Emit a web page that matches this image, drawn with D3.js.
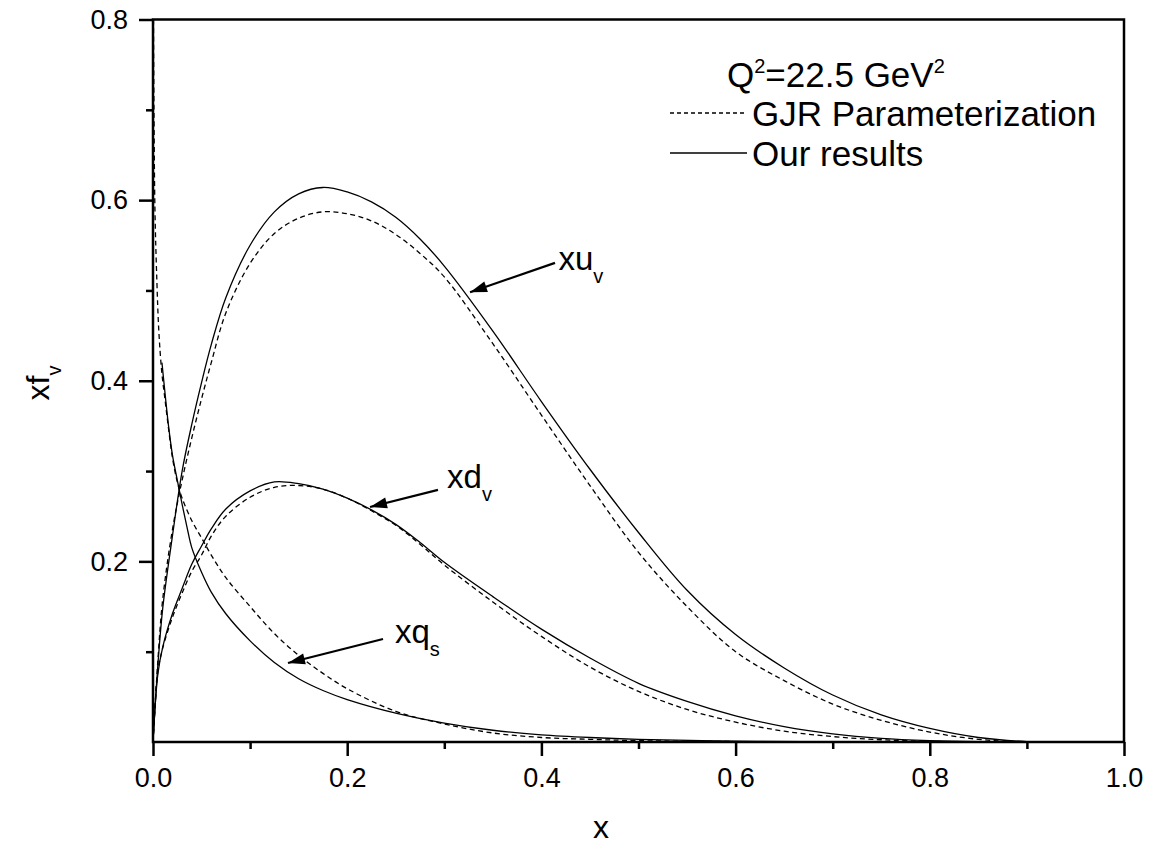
<!DOCTYPE html>
<html lang="en">
<head>
    <meta charset="utf-8">
    <script type="text/javascript" src="https://cdn.jsdelivr.net/npm/d3@7"></script>
    <style type="text/css">
        body { margin: 0; background: #fff; }
        svg text { font-family: "Liberation Sans", Arial, Helvetica, sans-serif; fill: #000; }
    </style>
</head>
<body>
<script>
    // x values shared by the valence curves
    var xGrid = [0, 0.005, 0.01, 0.02, 0.03, 0.04, 0.05, 0.06, 0.075, 0.1, 0.125, 0.15, 0.175, 0.2, 0.225,
        0.25, 0.275, 0.3, 0.35, 0.4, 0.45, 0.5, 0.55, 0.6, 0.65, 0.7, 0.75, 0.8, 0.85, 0.9, 1.0];

    // xu_v : our results (solid) and GJR (dashed)
    var xuOurs = [0, 0.085, 0.148, 0.228, 0.300, 0.352, 0.398, 0.440, 0.492, 0.550, 0.587, 0.607, 0.614, 0.609, 0.598,
        0.581, 0.557, 0.527, 0.455, 0.377, 0.302, 0.232, 0.168, 0.119, 0.082, 0.052, 0.030, 0.015, 0.005, 0.0005, 0];
    var xuGJR = [0, 0.090, 0.158, 0.235, 0.290, 0.337, 0.380, 0.420, 0.475, 0.530, 0.563, 0.580, 0.587, 0.585, 0.577,
        0.562, 0.541, 0.515, 0.441, 0.362, 0.284, 0.210, 0.150, 0.100, 0.068, 0.042, 0.024, 0.011, 0.003, 0, 0];

    // xd_v
    var xdOurs = [0, 0.075, 0.105, 0.142, 0.170, 0.197, 0.217, 0.236, 0.258, 0.278, 0.288, 0.286, 0.280, 0.270, 0.257,
        0.241, 0.221, 0.199, 0.161, 0.125, 0.093, 0.065, 0.045, 0.029, 0.017, 0.009, 0.004, 0.0015, 0.0003, 0, 0];
    var xdGJR = [0, 0.078, 0.104, 0.138, 0.165, 0.189, 0.207, 0.228, 0.250, 0.271, 0.282, 0.284, 0.280, 0.270, 0.256,
        0.240, 0.219, 0.196, 0.155, 0.117, 0.083, 0.056, 0.036, 0.022, 0.012, 0.006, 0.0025, 0.0008, 0, 0, 0];

    // xq_s has its own x points (steep near x = 0)
    var xqOursX = [0.0092, 0.0125, 0.016, 0.02, 0.025, 0.03, 0.035, 0.04, 0.05, 0.06, 0.075, 0.1, 0.125, 0.15,
        0.175, 0.2, 0.25, 0.3, 0.35, 0.4, 0.45, 0.5, 0.6, 0.7, 0.8, 1.0];
    var xqOurs = [0.420, 0.385, 0.350, 0.318, 0.290, 0.263, 0.238, 0.215, 0.188, 0.166, 0.142, 0.112, 0.088, 0.070,
        0.057, 0.047, 0.032, 0.021, 0.013, 0.008, 0.005, 0.003, 0.001, 0.0003, 0, 0];
    var xqGJRX = [0.0005, 0.001, 0.002, 0.004, 0.006, 0.009, 0.0125, 0.016, 0.02, 0.025, 0.03, 0.04, 0.05, 0.06,
        0.075, 0.1, 0.125, 0.15, 0.175, 0.2, 0.25, 0.3, 0.35, 0.4, 0.45, 0.5, 0.6, 0.7, 1.0];
    var xqGJR = [0.80, 0.70, 0.59, 0.51, 0.455, 0.41, 0.378, 0.347, 0.315, 0.288, 0.270, 0.245, 0.226, 0.207,
        0.182, 0.150, 0.120, 0.096, 0.076, 0.059, 0.034, 0.020, 0.010, 0.005, 0.003, 0.0015, 0.0005, 0, 0];

    var xTicks = [0, 0.2, 0.4, 0.6, 0.8, 1.0];
    var xMinor = [0.1, 0.3, 0.5, 0.7, 0.9];
    var yTicks = [0.2, 0.4, 0.6, 0.8];
    var yMinor = [0.1, 0.3, 0.5, 0.7];

    // arrows: label, subscript, text anchor, arrow start, arrow tip (data units)
    var notes = [
        {'name': 'xu', 'sub': 'v', 'tx': 0.4175, 'ty': 0.5227, 'x1': 0.414, 'y1': 0.5305, 'x2': 0.3265, 'y2': 0.498},
        {'name': 'xd', 'sub': 'v', 'tx': 0.3028, 'ty': 0.2813, 'x1': 0.2935, 'y1': 0.2791, 'x2': 0.2235, 'y2': 0.2602},
        {'name': 'xq', 'sub': 's', 'tx': 0.2492, 'ty': 0.1096, 'x1': 0.2369, 'y1': 0.1141, 'x2': 0.139, 'y2': 0.0875}
    ];

    var width = 1151, height = 848;
    var pLeft = 153, pRight = 1124, pTop = 19.5, pBottom = 742;

    var svg = d3.select('body')
            .append('svg')
            .attr('width', width)
            .attr('height', height);

    var x = d3.scaleLinear().domain([0, 1]).range([pLeft, pRight]);
    var y = d3.scaleLinear().domain([0, 0.8]).range([pBottom, pTop]);

    svg.append('clipPath')
            .attr('id', 'plot')
            .append('rect')
            .attr('x', pLeft)
            .attr('y', pTop)
            .attr('width', pRight - pLeft)
            .attr('height', pBottom - pTop);

    var line = d3.line()
            .x(function (d) { return x(d[0]); })
            .y(function (d) { return y(d[1]); })
            .curve(d3.curveCatmullRom.alpha(0.5));

    function pairs(xs, ys) {
        return xs.map(function (v, i) { return [v, ys[i]]; });
    }

    var curves = [
        {'pts': pairs(xGrid, xuGJR), 'dash': true},
        {'pts': pairs(xGrid, xuOurs), 'dash': false},
        {'pts': pairs(xGrid, xdGJR), 'dash': true},
        {'pts': pairs(xGrid, xdOurs), 'dash': false},
        {'pts': pairs(xqGJRX, xqGJR), 'dash': true},
        {'pts': pairs(xqOursX, xqOurs), 'dash': false}
    ];

    svg.append('g')
            .attr('clip-path', 'url(#plot)')
            .selectAll('path')
            .data(curves)
            .enter()
            .append('path')
            .attr('d', function (d) { return line(d.pts); })
            .attr('fill', 'none')
            .attr('stroke', '#000')
            .attr('stroke-width', 1.3)
            .attr('stroke-dasharray', function (d) { return d.dash ? '5,3.5' : null; });

    // axes
    svg.append('g')
            .attr('transform', 'translate(0,' + pBottom + ')')
            .call(d3.axisBottom(x).tickValues(xTicks).tickFormat(d3.format('.1f'))
                    .tickSize(14).tickSizeOuter(0).tickPadding(12));
    svg.append('g')
            .attr('transform', 'translate(0,' + pBottom + ')')
            .call(d3.axisBottom(x).tickValues(xMinor).tickFormat('').tickSize(7).tickSizeOuter(0));

    svg.append('g')
            .attr('transform', 'translate(' + pLeft + ',0)')
            .call(d3.axisLeft(y).tickValues(yTicks).tickFormat(d3.format('.1f'))
                    .tickSize(14).tickSizeOuter(0).tickPadding(11));
    svg.append('g')
            .attr('transform', 'translate(' + pLeft + ',0)')
            .call(d3.axisLeft(y).tickValues(yMinor).tickFormat('').tickSize(7).tickSizeOuter(0));

    svg.selectAll('.domain').remove();
    svg.selectAll('.tick line').attr('stroke', '#000').attr('stroke-width', 2.5);
    svg.selectAll('.tick text').attr('font-size', 27).attr('fill', '#000')
            .style('font-family', '"Liberation Sans", Arial, sans-serif');

    // frame
    svg.append('rect')
            .attr('x', pLeft)
            .attr('y', pTop)
            .attr('width', pRight - pLeft)
            .attr('height', pBottom - pTop)
            .attr('fill', 'none')
            .attr('stroke', '#000')
            .attr('stroke-width', 2.5);

    // axis titles
    svg.append('text')
            .attr('x', 601)
            .attr('y', 838)
            .attr('text-anchor', 'middle')
            .attr('font-size', 32)
            .text('x');

    var yt = svg.append('text')
            .attr('transform', 'translate(49,383) rotate(-90)')
            .attr('text-anchor', 'middle')
            .attr('font-size', 32);
    yt.append('tspan').text('xf');
    yt.append('tspan').attr('font-size', 20).attr('dy', 12).text('v');

    // arrows with labels
    var g = svg.selectAll('.note')
            .data(notes)
            .enter()
            .append('g')
            .attr('class', 'note');

    g.append('line')
            .attr('x1', function (d) { return x(d.x1); })
            .attr('y1', function (d) { return y(d.y1); })
            .attr('x2', function (d) { return x(d.x2); })
            .attr('y2', function (d) { return y(d.y2); })
            .attr('stroke', '#000')
            .attr('stroke-width', 2.2);

    g.append('polygon')
            .attr('points', function (d) {
                var ax = x(d.x2), ay = y(d.y2);
                var dx = x(d.x1) - ax, dy = y(d.y1) - ay;
                var len = Math.sqrt(dx * dx + dy * dy);
                var ux = dx / len, uy = dy / len;
                var bx = ax + ux * 17, by = ay + uy * 17;
                return [ax, ay, bx - uy * 5.5, by + ux * 5.5, bx + uy * 5.5, by - ux * 5.5].join(',');
            })
            .attr('fill', '#000');

    var lab = g.append('text')
            .attr('x', function (d) { return x(d.tx); })
            .attr('y', function (d) { return y(d.ty); })
            .attr('font-size', 33);
    lab.append('tspan').text(function (d) { return d.name; });
    lab.append('tspan').attr('font-size', 20).attr('dy', 13).text(function (d) { return d.sub; });

    // legend
    var q = svg.append('text')
            .attr('x', 727)
            .attr('y', 87)
            .attr('font-size', 35);
    q.append('tspan').text('Q');
    q.append('tspan').attr('font-size', 20).attr('dy', -14).text('2');
    q.append('tspan').attr('dy', 14).text('=22.5 GeV');
    q.append('tspan').attr('font-size', 20).attr('dy', -14).text('2');

    var legend = [
        {'label': 'GJR Parameterization', 'dash': true, 'y': 113},
        {'label': 'Our results', 'dash': false, 'y': 153}
    ];

    var lg = svg.selectAll('.legend')
            .data(legend)
            .enter()
            .append('g')
            .attr('class', 'legend');

    lg.append('line')
            .attr('x1', 670)
            .attr('x2', 747)
            .attr('y1', function (d) { return d.y; })
            .attr('y2', function (d) { return d.y; })
            .attr('stroke', '#000')
            .attr('stroke-width', 1.3)
            .attr('stroke-dasharray', function (d) { return d.dash ? '4,3' : null; });

    lg.append('text')
            .attr('x', 752)
            .attr('y', function (d) { return d.y + 13; })
            .attr('font-size', 35)
            .text(function (d) { return d.label; });
</script>
</body>
</html>
